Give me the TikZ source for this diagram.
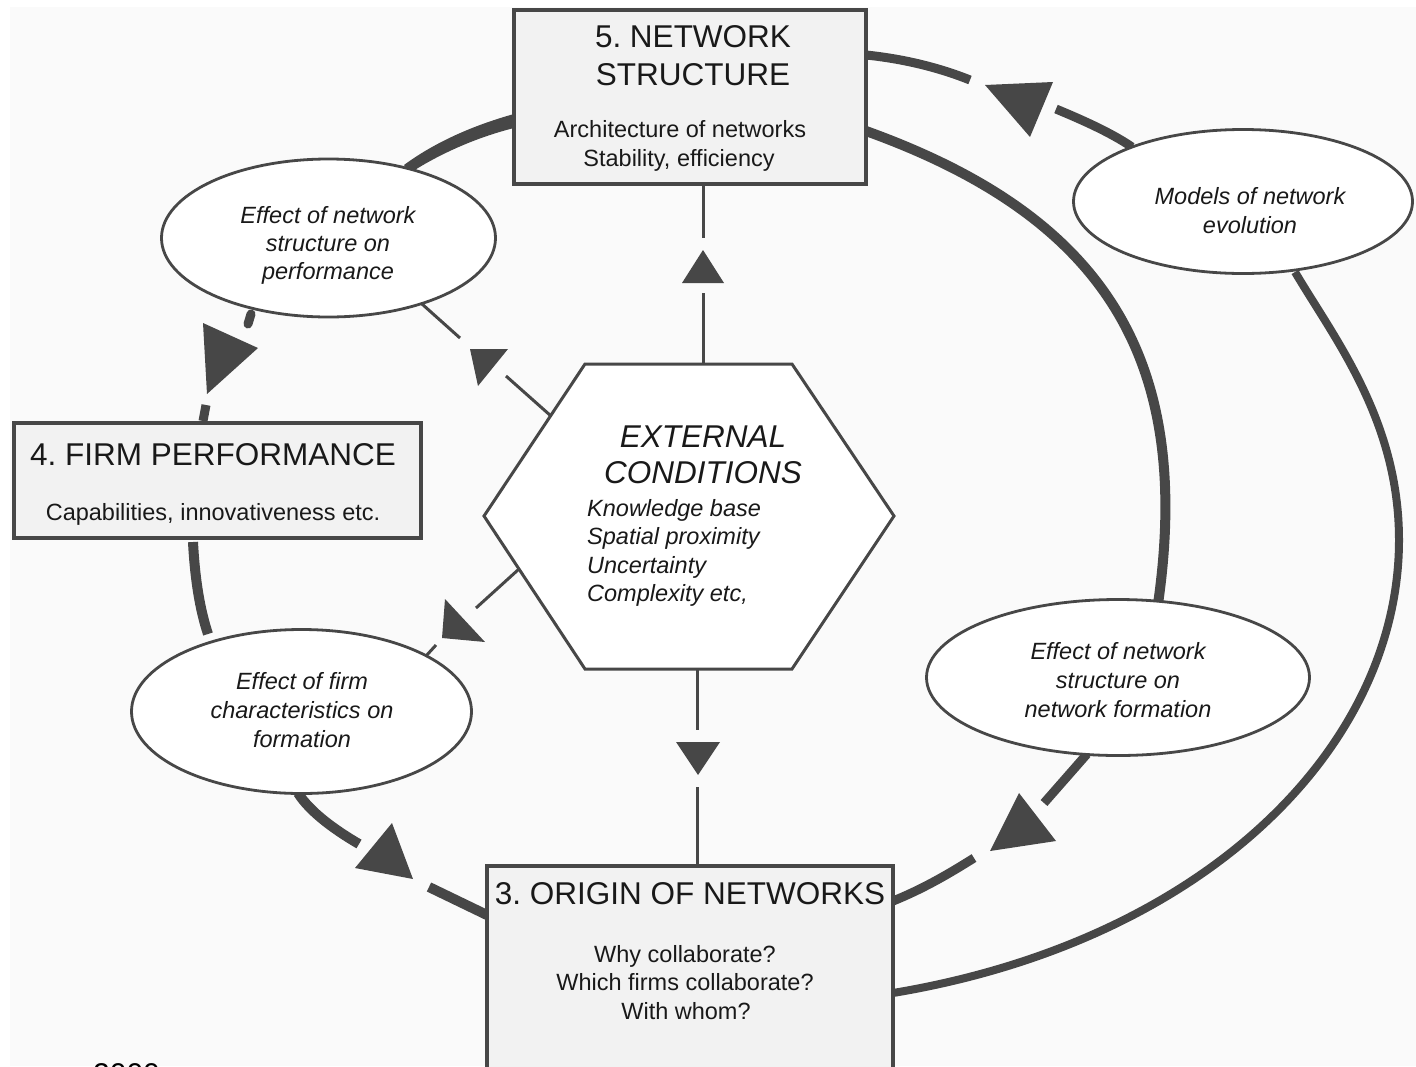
\documentclass[tikz,border=0pt]{standalone}
\usepackage{fontspec}
\setmainfont{Liberation Sans}
\usetikzlibrary{shapes.geometric,calc}
\definecolor{ln}{HTML}{474747}
\definecolor{bx}{HTML}{F2F2F2}
\definecolor{bgc}{HTML}{FAFAFA}
\tikzset{
  boxn/.style={draw=ln, line width=4pt, fill=bx, rectangle, inner sep=0pt},
  elln/.style={draw=ln, line width=2.8pt, fill=white, ellipse, inner sep=0pt},
  thk/.style={draw=ln, line width=10pt},
  thn/.style={draw=ln, line width=3pt},
  ttl/.style={font=\fontsize{31.5}{38}\selectfont, anchor=base, inner sep=0pt, text=black!90},
  ittl/.style={font=\fontsize{31.5}{38}\selectfont\itshape, anchor=base, inner sep=0pt, text=black!90},
  txs/.style={font=\fontsize{23.5}{29}\selectfont, anchor=base, inner sep=0pt, text=black!90},
  itxs/.style={font=\fontsize{23.5}{29}\selectfont\itshape, anchor=base, inner sep=0pt, text=black!90},
}
\begin{document}
\frenchspacing
\begin{tikzpicture}[x=1pt,y=-1pt]
\useasboundingbox (0,0) rectangle (1416,1066);
\clip (0,0) rectangle (1416,1066);
\fill[white] (0,0) rectangle (1416,1066);
\fill[bgc] (10,7) rectangle (1416,1066);

% ---------- coordinates for connectors ----------
% arc C (box5 -> models of network evolution, arrow toward box 5)
\coordinate (c1a) at (866,55);
\coordinate (c1b) at (970,80);
\coordinate (c2a) at (1056,109);
\coordinate (c2b) at (1132,147);
% arc A (box5 -> E4)
\coordinate (aA0) at (866,131);
\coordinate (aA1) at (1158,604);
% arc B (E2 -> box3)
\coordinate (aB0) at (1295,272);
\coordinate (aBm) at (1399,540);
\coordinate (aB1) at (893,993);
% box5 -> E1
\coordinate (p51a) at (514,121);
\coordinate (p51b) at (407,169);
% E1 -> box4
\coordinate (q1a) at (251,314);
\coordinate (q1b) at (248,324);
\coordinate (q2a) at (206,405);
\coordinate (q2b) at (203,421);
% box4 -> E3
\coordinate (r1a) at (193,542);
\coordinate (r1b) at (208,634);
% E3 -> box3
\coordinate (s1a) at (298,793);
\coordinate (s1b) at (359,844);
\coordinate (s2a) at (429,887);
\coordinate (s2b) at (487,915);
% E4 -> box3
\coordinate (u1a) at (1087,754);
\coordinate (u1b) at (1044,803);
\coordinate (u2a) at (974,858);
\coordinate (u2b) at (893,901);
% thin: hex -> box5
\coordinate (v1a) at (703,186);
\coordinate (v1b) at (703,238);
\coordinate (v2a) at (703,293);
\coordinate (v2b) at (703,363);
% thin: hex -> box3
\coordinate (w1a) at (697,670);
\coordinate (w1b) at (697,730);
\coordinate (w2a) at (697,787);
\coordinate (w2b) at (697,866);
% thin: hex -> E1
\coordinate (x1a) at (551,416);
\coordinate (x1b) at (506,376);
\coordinate (x2a) at (460,338);
\coordinate (x2b) at (422,304);
% thin: hex -> E3
\coordinate (y1a) at (519,569);
\coordinate (y1b) at (476,608);
\coordinate (y2a) at (436,645);
\coordinate (y2b) at (426,656);

% ---------- thick connectors ----------
\draw[thk] (aA0) .. controls (1105,217) and (1193,359) .. (aA1);
\draw[thk, line width=8pt] (aB0) .. controls (1334,338) and (1399,420) .. (aBm)
                                 .. controls (1399,744) and (1210,940) .. (aB1);
\draw[thk, line width=9pt] (c1a) .. controls (905,59) and (940,68) .. (c1b);
\draw[thk, line width=9pt] (c2a) .. controls (1080,119) and (1110,132) .. (c2b);
\fill[ln] (985,85) -- (1053,82) -- (1030,137) -- cycle;
\fill[ln] ($(p51a)+(0,-7)$) .. controls (478,124) and (438,140) .. ($(p51b)+(-3,-4)$)
          -- ($(p51b)+(3,4)$) .. controls (444,151) and (482,136) .. ($(p51a)+(0,7)$) -- cycle;
\draw[thk, line width=9pt, line cap=round] (q1a) -- (q1b);
\draw[thk, line width=9pt] (q2a) -- (q2b);
\fill[ln] (203,323) -- (258,348) -- (207,394) -- cycle;
\draw[thk] (r1a) .. controls (195,580) and (200,610) .. (r1b);
\draw[thk] (s1a) .. controls (310,812) and (335,830) .. (s1b);
\draw[thk] (s2a) -- (s2b);
\fill[ln] (392,823) -- (355,868) -- (413,879) -- cycle;
\draw[thk, line width=9pt] (u1a) -- (u1b);
\draw[thk, line width=9pt] (u2a) .. controls (950,873) and (925,888) .. (u2b);
\fill[ln] (1019,793) -- (1056,841) -- (990,851) -- cycle;

% ---------- thin connectors ----------
\draw[thn] (v1a) -- (v1b);
\draw[thn] (v2a) -- (v2b);
\fill[ln] (703,250) -- (682,283) -- (724,283) -- cycle;
\draw[thn] (w1a) -- (w1b);
\draw[thn] (w2a) -- (w2b);
\fill[ln] (676,742) -- (720,742) -- (698,775) -- cycle;
\draw[thn] (x1a) -- (x1b);
\draw[thn] (x2a) -- (x2b);
\fill[ln] (470,349) -- (508,349) -- (478,386) -- cycle;
\draw[thn] (y1a) -- (y1b);
\draw[thn] (y2a) -- (y2b);
\fill[ln] (445,599) -- (485,642) -- (442,638) -- cycle;

% ---------- shapes ----------
\node[boxn, minimum width=352pt, minimum height=174pt] (b5) at (690,97) {};
\node[boxn, minimum width=407pt, minimum height=115pt] (b4) at (217.5,480.5) {};
\node[boxn, minimum width=406pt, minimum height=240pt] (b3) at (690,986) {};

\coordinate (h1) at (585,364);
\coordinate (h2) at (792,364);
\coordinate (h3) at (894,516);
\coordinate (h4) at (792,669);
\coordinate (h5) at (585,669);
\coordinate (h6) at (484,516);
\draw[thn, fill=white, line join=miter] (h1) -- (h2) -- (h3) -- (h4) -- (h5) -- (h6) -- cycle;

\node[elln, minimum width=334pt, minimum height=158pt] (e1) at (328.5,238) {};
\node[elln, minimum width=339pt, minimum height=144pt] (e2) at (1243,201.5) {};
\node[elln, minimum width=340pt, minimum height=164pt] (e3) at (301.5,711.5) {};
\node[elln, minimum width=383pt, minimum height=156pt] (e4) at (1118,677.5) {};

% ---------- texts ----------
\node[ttl] (t5a) at (693,47) {5. NETWORK};
\node[ttl] (t5b) at (693,85) {STRUCTURE};
\node[txs] (t5c) at (680,137) {Architecture of networks};
\node[txs] (t5d) at (679,166) {Stability, efficiency};

\node[ttl] (t4a) at (213,465) {4. FIRM PERFORMANCE};
\node[txs] (t4b) at (213,520) {Capabilities, innovativeness etc.};

\node[ttl] (t3a) at (690,904) {3. ORIGIN OF NETWORKS};
\node[txs] (t3b) at (685,962) {Why collaborate?};
\node[txs] (t3c) at (685,990) {Which firms collaborate?};
\node[txs] (t3d) at (686,1019) {With whom?};

\node[ittl] (tha) at (703,447) {EXTERNAL};
\node[ittl] (thb) at (703,483) {CONDITIONS};
\node[itxs, anchor=base west] (thc) at (587,516) {Knowledge base};
\node[itxs, anchor=base west] (thd) at (587,544) {Spatial proximity};
\node[itxs, anchor=base west] (the) at (587,573) {Uncertainty};
\node[itxs, anchor=base west] (thf) at (587,601) {Complexity etc,};

\node[itxs] (te1a) at (328,223) {Effect of network};
\node[itxs] (te1b) at (328,251) {structure on};
\node[itxs] (te1c) at (328,279) {performance};

\node[itxs] (te2a) at (1250,204) {Models of network};
\node[itxs] (te2b) at (1250,233) {evolution};

\node[itxs] (te3a) at (302,689) {Effect of firm};
\node[itxs] (te3b) at (302,718) {characteristics on};
\node[itxs] (te3c) at (302,747) {formation};

\node[itxs] (te4a) at (1118,659) {Effect of network};
\node[itxs] (te4b) at (1118,688) {structure on};
\node[itxs] (te4c) at (1118,717) {network formation};

\node[font=\fontsize{30}{36}\selectfont, anchor=base west, inner sep=0pt] (yr) at (93,1084) {2000};
\end{tikzpicture}
\end{document}
